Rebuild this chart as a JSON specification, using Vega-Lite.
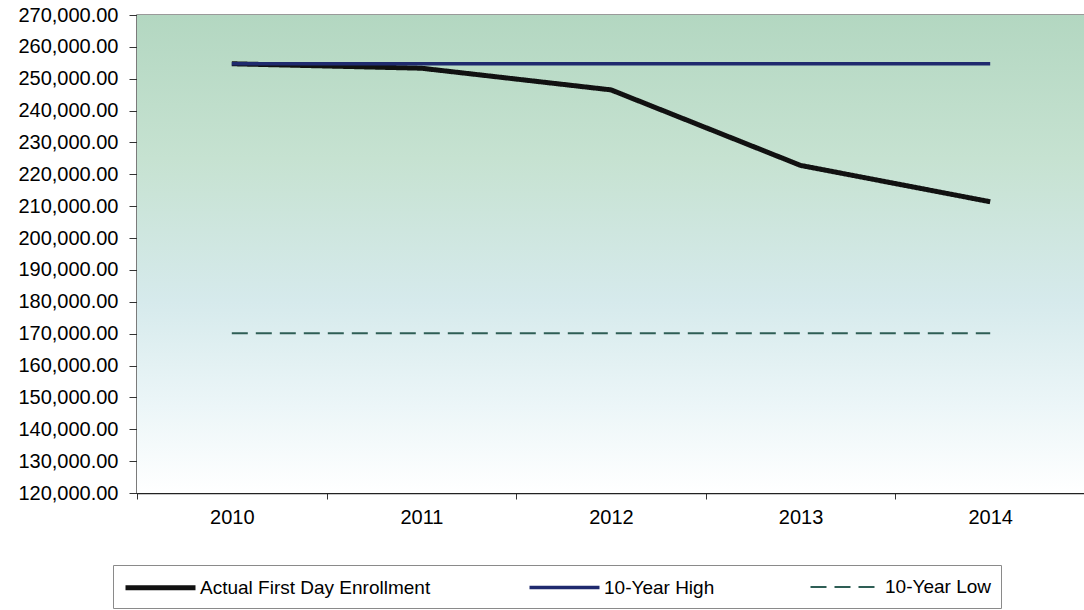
{
  "$schema": "https://vega.github.io/schema/vega-lite/v6.json",
  "width": 948,
  "height": 478,
  "autosize": {"type": "none"},
  "padding": {"left": 137, "top": 15, "right": 0, "bottom": 117},
  "background": "white",
  "config": {
    "font": "Liberation Sans",
    "view": {"stroke": "#7a7a7a", "strokeWidth": 1.5},
    "axis": {"labelFont": "Liberation Sans", "labelColor": "#000", "domainColor": "#222", "domainWidth": 1.5, "tickColor": "#333", "tickWidth": 1, "grid": false, "title": null},
    "legend": {
      "labelFont": "Liberation Sans",
      "labelFontSize": 19,
      "labelColor": "#000",
      "labelLimit": 400,
      "symbolType": "M-3.5,0H3.5",
      "symbolSize": 400,
      "symbolOffset": 25,
      "labelOffset": 27,
      "padding": 10,
      "strokeColor": "#8a8a8a",
      "fillColor": "white",
      "columnPadding": 91
    }
  },
  "layer": [
    {
      "data": {"values": [{"bg": 1}]},
      "mark": {
        "type": "rect",
        "fill": {
          "gradient": "linear",
          "x1": 0, "y1": 0, "x2": 0, "y2": 1,
          "stops": [
            {"offset": 0, "color": "#b3d7c1"},
            {"offset": 0.3, "color": "#c6e2d1"},
            {"offset": 0.6, "color": "#d6eaec"},
            {"offset": 0.82, "color": "#ecf6f8"},
            {"offset": 1, "color": "#ffffff"}
          ]
        }
      },
      "encoding": {}
    },
    {
      "data": {
        "values": [
          {"series": "Actual First Day Enrollment", "year": "2010", "value": 254700},
          {"series": "Actual First Day Enrollment", "year": "2011", "value": 253300},
          {"series": "Actual First Day Enrollment", "year": "2012", "value": 246500},
          {"series": "Actual First Day Enrollment", "year": "2013", "value": 222800},
          {"series": "Actual First Day Enrollment", "year": "2014", "value": 211400},
          {"series": "10-Year High", "year": "2010", "value": 254700},
          {"series": "10-Year High", "year": "2011", "value": 254700},
          {"series": "10-Year High", "year": "2012", "value": 254700},
          {"series": "10-Year High", "year": "2013", "value": 254700},
          {"series": "10-Year High", "year": "2014", "value": 254700},
          {"series": "10-Year Low", "year": "2010", "value": 170100},
          {"series": "10-Year Low", "year": "2011", "value": 170100},
          {"series": "10-Year Low", "year": "2012", "value": 170100},
          {"series": "10-Year Low", "year": "2013", "value": 170100},
          {"series": "10-Year Low", "year": "2014", "value": 170100}
        ]
      },
      "mark": {"type": "line"},
      "encoding": {
        "x": {
          "field": "year",
          "type": "ordinal",
          "bandPosition": 0.5,
          "scale": {"type": "band", "paddingInner": 0, "paddingOuter": 0},
          "axis": {"tickBand": "extent", "labelAngle": 0, "labelFontSize": 20, "tickSize": 6, "labelPadding": 8, "title": null}
        },
        "y": {
          "field": "value",
          "type": "quantitative",
          "scale": {"domain": [120000, 270000], "nice": false, "zero": false},
          "axis": {
            "values": [120000, 130000, 140000, 150000, 160000, 170000, 180000, 190000, 200000, 210000, 220000, 230000, 240000, 250000, 260000, 270000],
            "format": ",.2f",
            "labelFontSize": 20,
            "tickSize": 8,
            "labelPadding": 11,
            "title": null
          }
        },
        "color": {
          "field": "series",
          "type": "nominal",
          "scale": {"domain": ["Actual First Day Enrollment", "10-Year High", "10-Year Low"], "range": ["#111111", "#1f2a6e", "#2e5e55"]},
          "legend": {"title": null, "orient": "none", "legendX": -24, "legendY": 550, "direction": "horizontal", "columns": 3}
        },
        "strokeDash": {
          "field": "series",
          "type": "nominal",
          "scale": {"domain": ["Actual First Day Enrollment", "10-Year High", "10-Year Low"], "range": [[1, 0], [1, 0], [16, 8]]},
          "legend": {"title": null}
        },
        "strokeWidth": {
          "field": "series",
          "type": "nominal",
          "scale": {"domain": ["Actual First Day Enrollment", "10-Year High", "10-Year Low"], "range": [5, 2, 2]},
          "legend": {"title": null}
        }
      }
    }
  ]
}
